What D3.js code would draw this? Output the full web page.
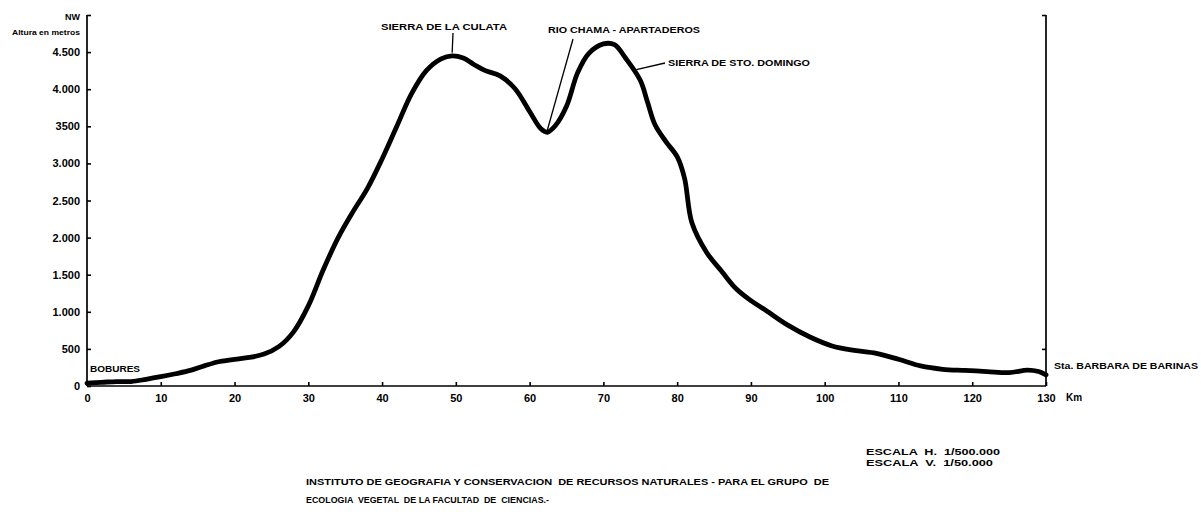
<!DOCTYPE html>
<html><head><meta charset="utf-8">
<script src="https://cdn.jsdelivr.net/npm/d3@7"></script>
<style>
html,body{margin:0;padding:0;background:#fff;}
svg text{font-family:"Liberation Sans",Arial,sans-serif;font-weight:bold;fill:#000;white-space:pre;}
</style></head>
<body>
<svg id="chart" width="1201" height="512"></svg>
<script>
// Distance along profile (km)
const distanceKm = [0,2,4,6,8,10,12,14,16,18,20,22,24,26,28,30,32,34,36,38,40,42,44,46,48,49.5,51,52.5,54,56,58,60,61.5,62.4,63.5,65,66.5,68,70,71.5,73,75,76,77,78.5,80,81,82,84,86,88,90,92,95,98,101,104,107,110,113,116,119,122,125,127.5,129,130];
// Elevation (m)
const elevationM = [40,50,60,60,90,125,165,210,275,330,360,385,430,530,730,1080,1560,1990,2340,2660,3060,3500,3940,4250,4410,4450,4420,4330,4250,4180,4010,3700,3470,3420,3510,3770,4220,4480,4610,4600,4420,4120,3820,3520,3290,3090,2800,2200,1800,1550,1310,1150,1020,820,660,540,480,440,360,270,225,210,195,180,215,195,150];

const xTicks = [0,10,20,30,40,50,60,70,80,90,100,110,120,130];
const yTicks = [0,500,1000,1500,2000,2500,3000,3500,4000,4500];
const yTickLabels = ["0","500","1.000","1.500","2.000","2.500","3.000","3500","4.000","4.500"];
const annotations = [
  {text:"SIERRA DE LA CULATA", km:49.5, m:4450},
  {text:"RIO CHAMA - APARTADEROS", km:62.4, m:3420},
  {text:"SIERRA DE STO. DOMINGO", km:74.2, m:4250}
];
const endLabels = ["BOBURES","Sta. BARBARA DE BARINAS"];
const scaleNotes = ["ESCALA  H.  1/500.000","ESCALA  V.  1/50.000"];
const footer = ["INSTITUTO DE GEOGRAFIA Y CONSERVACION  DE RECURSOS NATURALES - PARA EL GRUPO  DE","ECOLOGIA  VEGETAL  DE LA FACULTAD  DE  CIENCIAS.-"];

const svg = d3.select("#chart");
const x = d3.scaleLinear().domain([0,130]).range([87,1046]);
const y = d3.scaleLinear().domain([0,5000]).range([386,15]);

// Axes
const gx = svg.append("g").attr("transform",`translate(0,${y(0)})`)
  .call(d3.axisBottom(x).tickValues(xTicks).tickSize(-4).tickPadding(8).tickFormat(d3.format("d")));
const gy = svg.append("g").attr("transform",`translate(${x(0)},0)`)
  .call(d3.axisLeft(y).tickValues(yTicks.concat([5000])).tickSize(-4).tickPadding(7)
    .tickFormat((d,i)=> d===5000 ? "" : yTickLabels[i]));
const gr = svg.append("g").attr("transform",`translate(${x(130)},0)`)
  .call(d3.axisRight(y).tickValues([500,5000]).tickSize(-4).tickFormat(""));
[gx,gy,gr].forEach(g=>{
  g.select(".domain").attr("stroke","#000").attr("stroke-width",1.7);
  g.selectAll(".tick line").attr("stroke","#000").attr("stroke-width",1.6);
  g.selectAll("text").attr("font-size",11).attr("font-family","Liberation Sans, Arial, sans-serif").attr("font-weight","bold").attr("fill","#000");
});
gx.select(".domain").attr("d",`M${x(0)},0H${x(130)}`);
gy.select(".domain").attr("d",`M0,${y(0)}V${y(5000)}`);
gr.select(".domain").attr("d",`M0,${y(0)}V${y(5000)}`);

// Axis titles
svg.append("text").attr("x",80).attr("y",y(5000)+5).attr("text-anchor","end").attr("font-size",9).text("NW");
svg.append("text").attr("x",12).attr("y",35).attr("font-size",6.5).attr("textLength",68).attr("lengthAdjust","spacingAndGlyphs").text("Altura en metros");
svg.append("text").attr("x",1066).attr("y",y(0)+15).attr("font-size",10).text("Km");

// Profile line
const line = d3.line().x((d,i)=>x(distanceKm[i])).y(d=>y(d)).curve(d3.curveCatmullRom.alpha(0.5));
svg.append("path").datum(elevationM).attr("d",line)
  .attr("fill","none").attr("stroke","#000").attr("stroke-width",4.8).attr("stroke-linejoin","round").attr("stroke-linecap","round");

// Annotations with leader lines
const annPos = [
  {tx:381, ty:30, w:126, lx1:453, ly1:33, dx:0, dy:-3},
  {tx:548, ty:33, w:152, lx1:573, ly1:39, dx:0, dy:-2},
  {tx:668, ty:66, w:142, lx1:665, ly1:63, dx:2, dy:-1}
];
annotations.forEach((a,i)=>{
  const p = annPos[i];
  svg.append("line").attr("x1",p.lx1).attr("y1",p.ly1).attr("x2",x(a.km)+p.dx).attr("y2",y(a.m)+p.dy)
    .attr("stroke","#000").attr("stroke-width",1.3);
  svg.append("text").attr("x",p.tx).attr("y",p.ty).attr("font-size",9.5)
    .attr("textLength",p.w).attr("lengthAdjust","spacingAndGlyphs").text(a.text);
});

svg.append("text").attr("x",90).attr("y",372).attr("font-size",9.5).attr("textLength",50).attr("lengthAdjust","spacingAndGlyphs").text(endLabels[0]);
svg.append("text").attr("x",1054).attr("y",369).attr("font-size",9.5).attr("textLength",144).attr("lengthAdjust","spacingAndGlyphs").text(endLabels[1]);

svg.append("text").attr("x",866).attr("y",455).attr("font-size",9).attr("textLength",134).attr("lengthAdjust","spacingAndGlyphs").text(scaleNotes[0]);
svg.append("text").attr("x",866).attr("y",466).attr("font-size",9).attr("textLength",127).attr("lengthAdjust","spacingAndGlyphs").text(scaleNotes[1]);

svg.append("text").attr("x",306).attr("y",485).attr("font-size",9.5).attr("textLength",523).attr("lengthAdjust","spacingAndGlyphs").text(footer[0]);
svg.append("text").attr("x",306).attr("y",503).attr("font-size",9.5).attr("textLength",243).attr("lengthAdjust","spacingAndGlyphs").text(footer[1]);
</script>
</body></html>
